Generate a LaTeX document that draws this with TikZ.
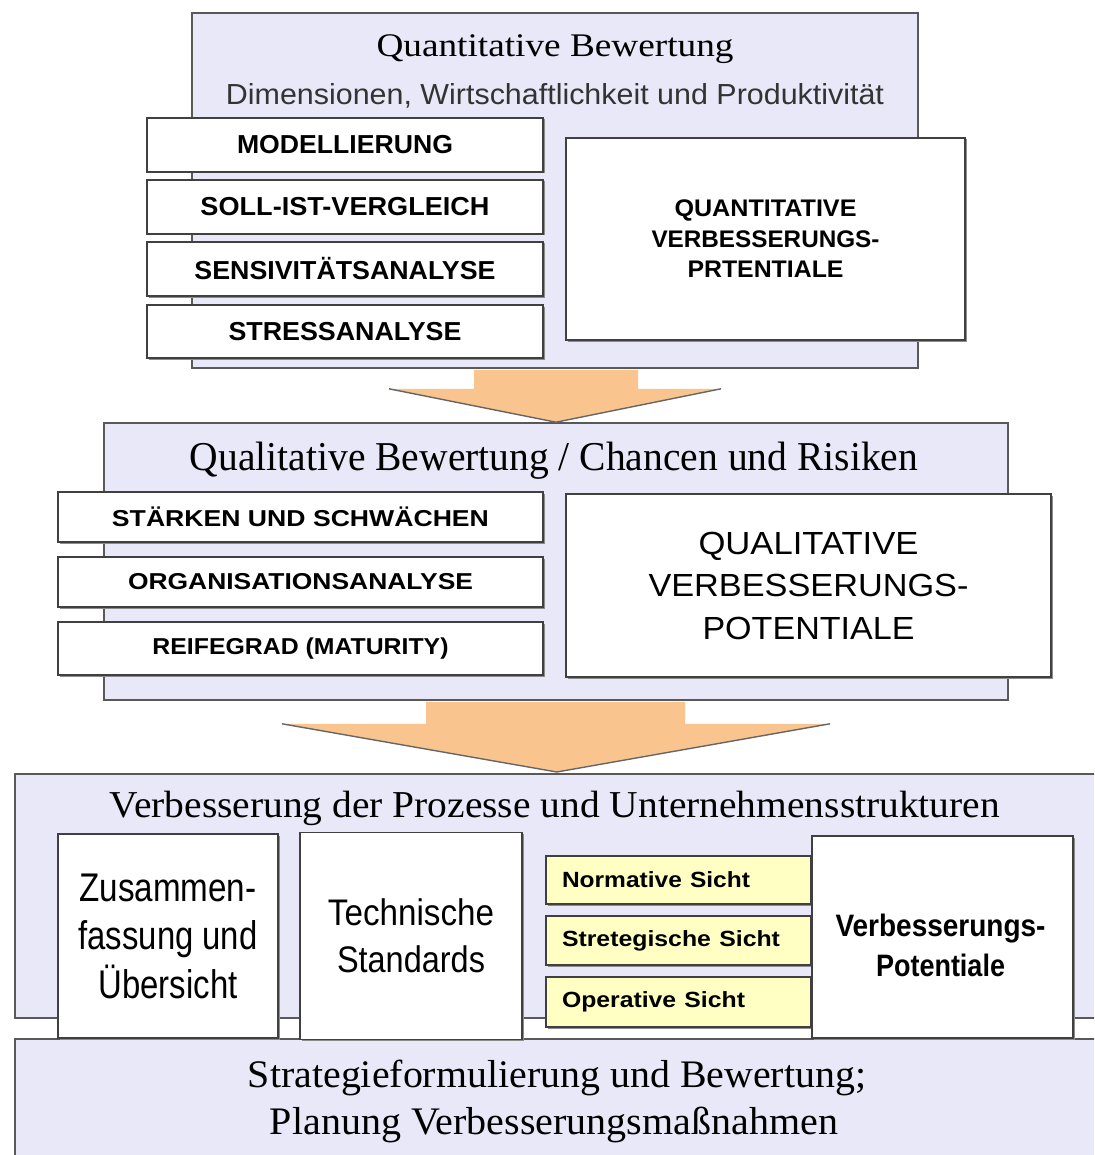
\documentclass[tikz,border=0pt]{standalone}
\usepackage{fontspec}
\setmainfont{Liberation Serif}
\newfontfamily\arialf{Liberation Sans}
\usetikzlibrary{calc,shadows}
\definecolor{panelc}{RGB}{232,232,248}
\definecolor{yboxc}{RGB}{255,255,196}
\definecolor{arrowfillc}{RGB}{250,196,142}
\newcommand{\fw}[2]{\resizebox{#1pt}{\height}{#2}}
\newcommand{\sz}[2]{\fontsize{#1}{#2}\selectfont}
\begin{document}
\begin{tikzpicture}[x=1pt,y=-1pt,
  panel/.style={draw=black!65, line width=1.6pt, fill=panelc, inner sep=0pt},
  wbox/.style={draw=black!75, line width=1.4pt, fill=white, inner sep=0pt, align=center,
    general shadow={shadow xshift=1.5pt, shadow yshift=-1.5pt, fill=black!45}},
  ybox/.style={wbox, fill=yboxc, align=left, text width=233pt},
  ttl/.style={inner sep=0pt, anchor=base},
  blockarrow/.style={fill=arrowfillc, draw=none},
  aedge/.style={draw=black!60, line width=1.4pt, line join=round},
  capbold/.style={font=\arialf\bfseries\sz{26}{30}},
]
\useasboundingbox (0,0) rectangle (1094,1155);
\clip (0,0) rectangle (1094,1155);
\fill[white] (0,0) rectangle (1094,1155);

% panels
\node[panel, minimum width=726pt, minimum height=355pt] (p1) at (555,190.5) {};
\node[panel, minimum width=904pt, minimum height=277pt] (p2) at (556,561.5) {};
\node[panel, minimum width=1090pt, minimum height=244pt, anchor=north west] (p3) at (14,773) {};
\node[panel, minimum width=1090pt, minimum height=140pt, anchor=north west] (p4) at (14,1038) {};

% arrow 1
\path (p1.south) coordinate (a1s) (p2.north) coordinate (a1t);
\fill[blockarrow] ($(a1s)+(-81,1)$) -- ($(a1s)+(-81,20)$) -- ($(a1s)+(-166,20)$) -- (a1t)
  -- ($(a1s)+(166,20)$) -- ($(a1s)+(83,20)$) -- ($(a1s)+(83,1)$) -- cycle;
\draw[aedge] ($(a1s)+(-166,20)$) -- (a1t) -- ($(a1s)+(166,20)$);

% arrow 2
\path (p2.south) coordinate (a2s) (p3.north) coordinate (a2t);
\fill[blockarrow] ($(a2s)+(-130,1)$) -- ($(a2s)+(-130,23)$) -- ($(a2s)+(-274,23)$) -- ($(a2t)+(-3,-1)$)
  -- ($(a2s)+(274,23)$) -- ($(a2s)+(129,23)$) -- ($(a2s)+(129,1)$) -- cycle;
\draw[aedge] ($(a2s)+(-274,23)$) -- ($(a2t)+(-3,-1)$) -- ($(a2s)+(274,23)$);

% titles
\node[ttl, font=\sz{33}{40}] (t1) at (555,57) {\fw{357}{Quantitative Bewertung}};
\node[ttl, font=\arialf\sz{29}{34}, text=black!80] (t1b) at (555,105) {\fw{658}{Dimensionen, Wirtschaftlichkeit und Produktivität}};
\node[ttl, font=\sz{41}{48}] (t2) at (554,470) {\fw{728}{Qualitative Bewertung / Chancen und Risiken}};
\node[ttl, font=\sz{38}{46}] (t3) at (555,817) {\fw{890}{Verbesserung der Prozesse und Unternehmensstrukturen}};
\node[ttl, font=\sz{39}{46}] (t4a) at (557,1087) {\fw{618}{Strategieformulierung und Bewertung;}};
\node[ttl, font=\sz{39}{46}] (t4b) at (554,1134) {\fw{568}{Planung Verbesserungsmaßnahmen}};

% top boxes
\node[wbox, capbold, minimum width=396pt, minimum height=54pt] (b1) at (345,145) {\fw{216}{MODELLIERUNG}};
\node[wbox, capbold, minimum width=396pt, minimum height=54pt] (b2) at (345,207) {\fw{289}{SOLL-IST-VERGLEICH}};
\node[wbox, capbold, minimum width=396pt, minimum height=54pt] (b3) at (345,269) {\fw{301}{SENSIVITÄTSANALYSE}};
\node[wbox, capbold, minimum width=396pt, minimum height=53pt] (b4) at (345,331.5) {\fw{233}{STRESSANALYSE}};
\node[wbox, font=\arialf\bfseries\sz{24}{30.5}, minimum width=399pt, minimum height=202pt] (q1) at (765.5,239)
  {\fw{182}{QUANTITATIVE}\\\fw{228}{VERBESSERUNGS-}\\\fw{156}{PRTENTIALE}};

% middle boxes
\node[wbox, font=\arialf\bfseries\sz{23}{28}, minimum width=485pt, minimum height=50pt] (m1) at (300.5,517) {\fw{377}{STÄRKEN UND SCHWÄCHEN}};
\node[wbox, font=\arialf\bfseries\sz{23}{28}, minimum width=485pt, minimum height=50pt] (m2) at (300.5,582) {\fw{345}{ORGANISATIONSANALYSE}};
\node[wbox, font=\arialf\bfseries\sz{23}{28}, minimum width=485pt, minimum height=53pt] (m3) at (300.5,648.5) {\fw{296}{REIFEGRAD (MATURITY)}};
\node[wbox, font=\arialf\sz{32}{42.5}, minimum width=485pt, minimum height=183pt] (q2) at (808.5,585.5)
  {\fw{220}{QUALITATIVE}\\\fw{320}{VERBESSERUNGS-}\\\fw{212}{POTENTIALE}};

% bottom boxes
\node[wbox, font=\arialf\sz{40}{48.5}, minimum width=220pt, minimum height=204pt] (z) at (168,936)
  {\fw{177}{Zusammen-}\\\fw{179}{fassung und}\\\fw{139}{Übersicht}};
\node[wbox, font=\arialf\sz{37}{47}, minimum width=222pt, minimum height=207pt] (t) at (411,936)
  {\fw{166}{Technische}\\\fw{148}{Standards}};
\node[ybox, font=\arialf\bfseries\sz{22}{26}, minimum width=265pt, minimum height=48pt] (n) at (678.5,880) {\fw{188}{Normative Sicht}};
\node[ybox, font=\arialf\bfseries\sz{22}{26}, minimum width=265pt, minimum height=49pt] (s) at (678.5,940.5) {\fw{218}{Stretegische Sicht}};
\node[ybox, font=\arialf\bfseries\sz{22}{26}, minimum width=265pt, minimum height=50pt] (o) at (678.5,1002) {\fw{183}{Operative Sicht}};
\node[wbox, minimum width=261pt, minimum height=202pt] (v) at (942.5,937) {};
\node[inner sep=0pt, align=center, font=\arialf\bfseries\sz{31}{40}] (vt) at ($(v.center)+(-2,8)$)
  {\fw{210}{Verbesserungs-}\\\fw{129}{Potentiale}};
\end{tikzpicture}
\end{document}
